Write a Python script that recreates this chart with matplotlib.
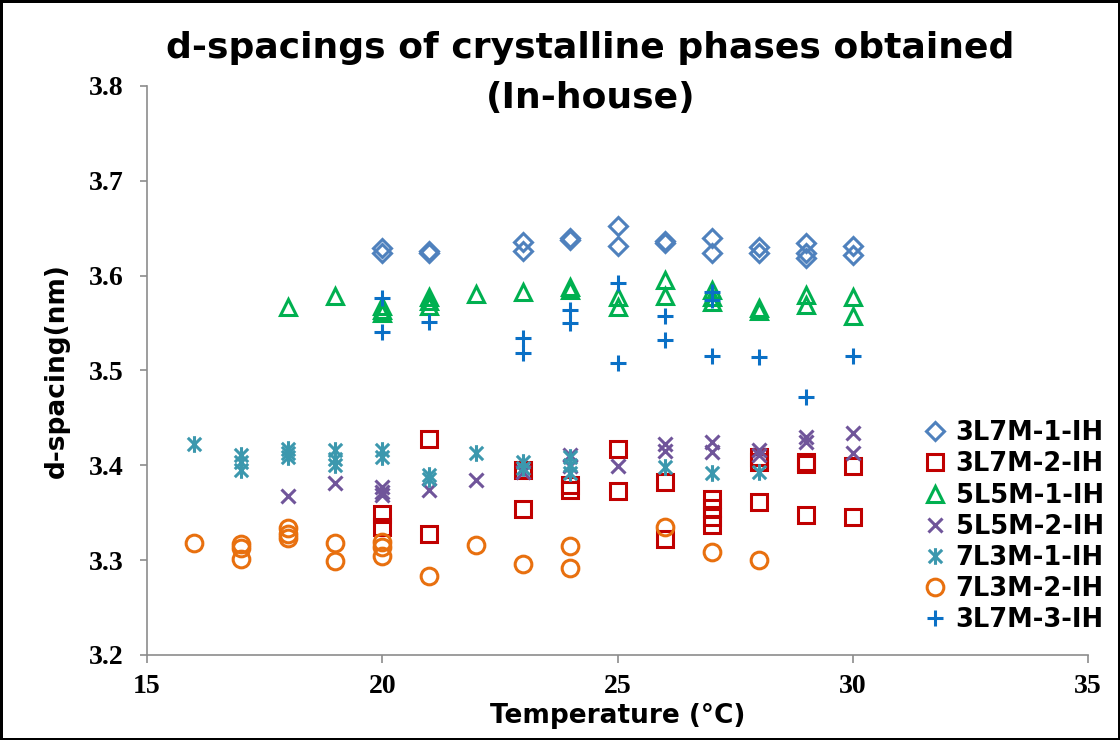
"""Scatter of d-spacings for the in-house crystalline phases."""

import matplotlib

matplotlib.use("Agg")
import matplotlib.pyplot as plt
from matplotlib.path import Path

# 3L7M-1-IH
t_3l7m_1 = [20, 20, 21, 21, 23, 23, 24, 24, 25, 25, 26, 26, 27, 27, 28, 28, 29, 29, 29, 30, 30]
d_3l7m_1 = [3.629, 3.624, 3.626, 3.624, 3.636, 3.626, 3.640, 3.638, 3.652, 3.631, 3.637, 3.634,
            3.640, 3.624, 3.630, 3.624, 3.634, 3.624, 3.619, 3.631, 3.622]

# 3L7M-2-IH
t_3l7m_2 = [20, 20, 21, 21, 23, 23, 24, 24, 25, 25, 26, 26, 27, 27, 27, 27, 28, 28, 28, 29, 29, 29, 30, 30]
d_3l7m_2 = [3.349, 3.335, 3.428, 3.328, 3.395, 3.354, 3.379, 3.374, 3.417, 3.373, 3.382, 3.322,
            3.365, 3.355, 3.346, 3.337, 3.409, 3.404, 3.361, 3.404, 3.401, 3.348, 3.399, 3.346]

# 5L5M-1-IH
t_5l5m_1 = [18, 19, 20, 20, 20, 21, 21, 21, 22, 23, 24, 24, 25, 25, 26, 26, 27, 27, 27, 28, 28,
            29, 29, 30, 30]
d_5l5m_1 = [3.567, 3.579, 3.568, 3.564, 3.561, 3.578, 3.573, 3.568, 3.581, 3.583, 3.588, 3.585,
            3.578, 3.567, 3.595, 3.579, 3.585, 3.578, 3.572, 3.566, 3.563, 3.580, 3.569, 3.578, 3.557]

# 5L5M-2-IH
t_5l5m_2 = [18, 19, 20, 20, 20, 21, 22, 23, 24, 24, 25, 26, 26, 27, 27, 28, 28, 29, 29, 30, 30]
d_5l5m_2 = [3.368, 3.381, 3.377, 3.372, 3.369, 3.374, 3.385, 3.393, 3.411, 3.399, 3.399, 3.423,
            3.415, 3.425, 3.414, 3.416, 3.411, 3.430, 3.425, 3.434, 3.413]

# 7L3M-1-IH
t_7l3m_1 = [16, 17, 17, 17, 18, 18, 18, 19, 19, 19, 20, 20, 21, 21, 22, 23, 23, 24, 24, 24, 26, 27, 28]
d_7l3m_1 = [3.422, 3.411, 3.404, 3.395, 3.417, 3.413, 3.409, 3.416, 3.407, 3.400, 3.416, 3.409,
            3.390, 3.386, 3.413, 3.404, 3.397, 3.409, 3.400, 3.392, 3.398, 3.392, 3.393]

# 7L3M-2-IH
t_7l3m_2 = [16, 17, 17, 17, 18, 18, 18, 19, 19, 20, 20, 20, 21, 22, 23, 24, 24, 26, 27, 28]
d_7l3m_2 = [3.318, 3.317, 3.313, 3.301, 3.334, 3.328, 3.323, 3.318, 3.299, 3.319, 3.314, 3.304,
            3.283, 3.316, 3.296, 3.315, 3.292, 3.335, 3.309, 3.300]

# 3L7M-3-IH
t_3l7m_3 = [20, 20, 21, 23, 23, 24, 24, 25, 25, 26, 26, 27, 27, 27, 28, 29, 30]
d_3l7m_3 = [3.576, 3.541, 3.551, 3.534, 3.518, 3.564, 3.550, 3.592, 3.508, 3.557, 3.532, 3.583,
            3.574, 3.515, 3.514, 3.472, 3.515]

x_ticks = [15, 20, 25, 30, 35]
y_ticks = [3.2, 3.3, 3.4, 3.5, 3.6, 3.7, 3.8]

# tick numbers in bold serif; every other text names its own family
plt.rcParams["font.family"] = "Liberation Serif"
plt.rcParams["font.weight"] = "bold"
plt.rcParams["xtick.labelsize"] = 20
plt.rcParams["ytick.labelsize"] = 20

# Excel style asterisk: an X with a vertical bar through it
asterisk = Path(
    [(-0.8, -0.8), (0.8, 0.8), (-0.8, 0.8), (0.8, -0.8), (0, -1.0), (0, 1.0)],
    [Path.MOVETO, Path.LINETO, Path.MOVETO, Path.LINETO, Path.MOVETO, Path.LINETO],
)

series = [
    ("3L7M-1-IH", t_3l7m_1, d_3l7m_1, "D", "#4F81BD", 9.5),
    ("3L7M-2-IH", t_3l7m_2, d_3l7m_2, "s", "#C00000", 11.5),
    ("5L5M-1-IH", t_5l5m_1, d_5l5m_1, "^", "#00B050", 12),
    ("5L5M-2-IH", t_5l5m_2, d_5l5m_2, "x", "#70559A", 10.5),
    ("7L3M-1-IH", t_7l3m_1, d_7l3m_1, asterisk, "#3C98AE", 12),
    ("7L3M-2-IH", t_7l3m_2, d_7l3m_2, "o", "#E8700F", 12),
    ("3L7M-3-IH", t_3l7m_3, d_3l7m_3, "+", "#0A70C6", 11.5),
]

fig = plt.figure(figsize=(11.2, 7.4), dpi=100)
fig.patch.set_edgecolor("black")
fig.patch.set_linewidth(2.5)
ax = fig.add_axes([0.1313, 0.1149, 0.8401, 0.7689])

for label, temps, spacings, marker, color, size in series:
    ax.plot(temps, spacings, linestyle="none", marker=marker, markersize=size,
            markerfacecolor="none", markeredgecolor=color, markeredgewidth=2.2,
            label=label)

ax.set_xlim(15, 35)
ax.set_ylim(3.2, 3.8)
ax.set_xticks(x_ticks, [str(v) for v in x_ticks])
ax.set_yticks(y_ticks, [f"{v:.1f}" for v in y_ticks])

for side in ("top", "right"):
    ax.spines[side].set_visible(False)
for side in ("left", "bottom"):
    ax.spines[side].set_color("#8C8C8C")
    ax.spines[side].set_linewidth(1.2)
ax.tick_params(axis="y", direction="out", length=5, width=1.2, color="#8C8C8C", pad=12)
ax.tick_params(axis="x", direction="out", length=6, width=1.2, color="#8C8C8C", pad=8)

label_font = {"family": "DejaVu Sans", "weight": "bold", "size": 19}
xlab = ax.set_xlabel("Temperature (°C)", fontdict=label_font)
xlab.set_va("center")
ax.xaxis.set_label_coords(0.5, -0.108)
ylab = ax.set_ylabel("d-spacing(nm)", fontdict=label_font)
ylab.set_va("center")
ax.yaxis.set_label_coords(-0.096, 0.5)

fig.text(0.527, 0.901, "d-spacings of crystalline phases obtained\n(In-house)",
         ha="center", va="center", fontsize=26, fontweight="bold",
         fontfamily="DejaVu Sans", linespacing=1.6)

ax.legend(loc="upper left", bbox_to_anchor=(0.813, 0.446), bbox_transform=fig.transFigure,
          frameon=False, handletextpad=0.25, labelspacing=0.2, handlelength=1.1,
          borderaxespad=0, prop={"family": "DejaVu Sans", "weight": "bold", "size": 18.5})

fig.savefig("out.png", dpi=100)
plt.close(fig)
